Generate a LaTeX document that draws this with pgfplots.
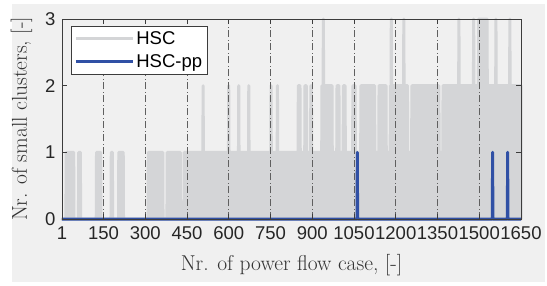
\documentclass[border=0pt]{standalone}
\usepackage{fontspec}
\setsansfont{Liberation Sans}
\usepackage{pgfplots}
\usetikzlibrary{backgrounds}
\pgfplotsset{compat=1.18}
\definecolor{figbg}{RGB}{240,240,240}
\definecolor{hscgray}{RGB}{212,213,215}
\definecolor{hscblue}{RGB}{48,80,165}
\definecolor{axgray}{RGB}{60,60,60}
\definecolor{gridgray}{RGB}{95,95,95}
\begin{document}
\begin{tikzpicture}
\begin{axis}[
  name=ax, at={(0pt,0pt)}, anchor=south west,
  scale only axis, width=459pt, height=200pt,
  xmin=1, xmax=1650, ymin=0, ymax=3,
  xtick={1,150,300,450,600,750,900,1050,1200,1350,1500,1650},
  xticklabels={1,150,300,450,600,750,900,1050,1200,1350,1500,1650},
  ytick={0,1,2,3},
  tick align=inside, major tick length=5pt,
  xmajorgrids,
  grid style={gridgray, line width=0.7pt, dash pattern=on 7pt off 2.5pt on 1pt off 2.5pt},
  axis on top,
  axis line style={axgray, line width=0.7pt},
  tick style={axgray, line width=0.7pt},
  clip=false,
  ticklabel style={font=\sffamily\fontsize{18.5}{18.5}\selectfont, text=black!85},
  /pgf/number format/assume math mode=true,
  xticklabel style={yshift=-4pt},
  yticklabel style={xshift=-3pt},
  xlabel={Nr. of power flow case, [-]},
  ylabel={Nr. of small clusters, [-]},
  label style={font=\fontsize{21.5}{24}\selectfont, text=black!80},
  xlabel style={at={(axis description cs:0.5,-0.255)}, anchor=base},
  ylabel style={at={(axis description cs:-0.0763,0.5)}, anchor=base},
  legend style={at={(axis description cs:0.0196,0.965)}, anchor=north west,
    draw=axgray, line width=0.7pt, fill=white,
    font=\sffamily\fontsize{18.5}{18.5}\selectfont,
    inner xsep=3pt, inner ysep=3pt, row sep=5pt},
  legend cell align=left,
  legend image code/.code={\draw[#1] (0pt,0pt) -- (57pt,0pt);},
]
\addplot[hscgray, fill=hscgray, line width=3pt, line join=round] coordinates {
(1,0) (15,0) (16,1) (43,1) (44,0) (60,0) (61,1) (67,1) (68,0) (124,0) (125,1) (140,1) (141,0)
(177,0) (178,1) (182,1) (183,0) (204,0) (205,1) (221,1) (222,0) (310,0) (311,1) (363,1) (364,0)
(378,0) (379,1) (426,1) (427,0) (439,0) (440,1)
(507,1) (508,2) (509,1)
(599,1) (600,2) (601,1)
(635,1) (636,2) (637,1)
(671,1) (672,2) (673,1)
(751,1) (752,2) (753,1)
(774,1) (775,2) (776,1)
(849,1) (850,2) (856,2) (857,1)
(873,1) (874,2) (879,2) (880,1)
(894,1) (895,2) (897,2) (898,1)
(934,1) (935,2) (939,2) (940,3) (941,2) (971,2) (972,1)
(988,1) (989,2) (996,2) (997,1)
(1011,1) (1012,2) (1018,2) (1019,1)
(1045,1) (1046,2) (1054,2) (1055,1)
(1074,1) (1075,2) (1124,2) (1125,1)
(1139,1) (1140,2) (1165,2) (1166,1)
(1180,1) (1181,2) (1183,2) (1184,3) (1185,2) (1228,2) (1229,3) (1230,2) (1242,2) (1243,1)
(1257,1) (1258,2) (1355,2) (1356,1)
(1369,1) (1370,2) (1426,2) (1427,3) (1428,2) (1479,2) (1480,3) (1481,2)
(1497,2) (1498,3) (1528,3) (1529,2) (1559,2) (1560,3) (1561,2) (1609,2) (1610,3) (1611,2) (1650,2)
} \closedcycle;
\addlegendentry{HSC}
\addplot[hscblue, line width=3pt, line join=round] coordinates {
(1,0) (1061,0) (1062,1) (1063,0) (1547,0) (1548,1) (1549,0) (1601,0) (1602,1) (1603,0) (1650,0)
};
\addlegendentry{HSC-pp}
\end{axis}
\begin{pgfonlayer}{background}
\fill[white] (-62pt,-66pt) rectangle (485pt,219pt);
\fill[figbg] (-50pt,-63pt) rectangle (483pt,215pt);
\end{pgfonlayer}
\pgfresetboundingbox
\path[use as bounding box] (-62pt,-66pt) rectangle (485pt,219pt);
\end{tikzpicture}
\end{document}
